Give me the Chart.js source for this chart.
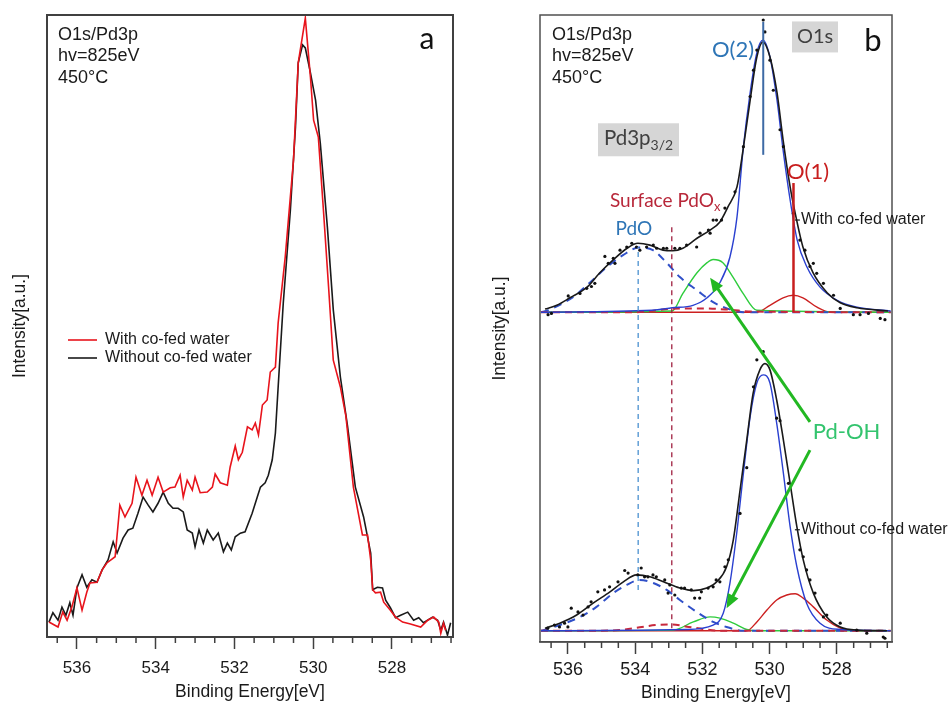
<!DOCTYPE html>
<html>
<head>
<meta charset="utf-8">
<script src="https://cdn.jsdelivr.net/npm/chart.js@4.4.1/dist/chart.umd.min.js"></script>
<style>
  html, body { margin: 0; padding: 0; background: #fff; }
  #wrap { position: relative; width: 952px; height: 704px; overflow: hidden; }
  canvas { position: absolute; top: 0; }
  #chart-a { left: 0; }
  #chart-b { left: 480px; }
</style>
</head>
<body>
<div id="wrap">
  <canvas id="chart-a" width="470" height="704"></canvas>
  <canvas id="chart-b" width="472" height="704"></canvas>
</div>
<script>
/* O1s / Pd3p XPS spectra, hv = 825 eV, 450 C */

var SANS = "'Liberation Sans', Arial, sans-serif";
var HUMAN = "Lato, 'Open Sans', sans-serif";

var majorTicks = [536, 534, 532, 530, 528];
var headerLines = ['O1s/Pd3p', 'hv=825eV', '450°C'];
var legendLabels = ['With co-fed water', 'Without co-fed water'];

/* ---- panel a: raw spectra ---- */
var withE = [536.71, 536.48, 536.36, 536.25, 536.13, 536.00, 535.87, 535.75, 535.67, 535.49, 535.36, 535.24, 535.03,
  534.91, 534.78, 534.60, 534.50, 534.35, 534.22, 534.09, 533.94, 533.81, 533.63, 533.51, 533.38, 533.30, 533.20,
  533.07, 533.00, 532.87, 532.69, 532.56, 532.49, 532.36, 532.18, 532.11, 531.98, 531.90, 531.80, 531.67, 531.55,
  531.47, 531.39, 531.29, 531.17, 531.09, 530.96, 530.89, 530.71, 530.50, 530.38, 530.20, 530.07, 529.99, 529.87,
  529.74, 529.61, 529.49, 529.31, 529.17, 528.98, 528.75, 528.62, 528.54, 528.49, 528.42, 528.29, 528.21, 528.04,
  527.91, 527.73, 527.53, 527.27, 527.09, 526.94, 526.81, 526.76, 526.69, 526.64];
var withI = [2.4, 1.6, 4.0, 2.7, 4.8, 7.9, 4.3, 7.2, 8.7, 8.8, 10.8, 11.9, 12.9,
  21.2, 19.3, 21.5, 25.7, 22.8, 25.2, 22.8, 25.7, 23.3, 24.0, 24.1, 26.0, 22.5, 25.2,
  23.6, 25.7, 23.2, 23.3, 24.1, 26.2, 24.8, 24.4, 27.3, 30.7, 28.5, 29.7, 33.8, 33.3,
  34.4, 32.5, 37.3, 38.1, 42.6, 43.4, 50.5, 61.1, 76.7, 92.3, 99.5, 90.0, 83.1, 80.4,
  68.6, 56.3, 44.5, 40.2, 35.5, 24.1, 16.4, 16.4, 12.4, 7.6, 7.1, 7.2, 5.6, 4.3,
  3.2, 2.4, 2.1, 1.6, 2.7, 3.2, 2.4, 0.6, 2.2, 1.1];

var withoutE = [536.71, 536.61, 536.48, 536.38, 536.28, 536.18, 536.10, 536.00, 535.87, 535.75, 535.62, 535.49,
  535.36, 535.21, 535.08, 534.98, 534.83, 534.70, 534.58, 534.45, 534.32, 534.19, 534.07, 533.94, 533.81, 533.68,
  533.56, 533.43, 533.30, 533.20, 533.07, 533.00, 532.90, 532.79, 532.69, 532.54, 532.41, 532.28, 532.18, 532.08,
  531.98, 531.85, 531.73, 531.55, 531.42, 531.34, 531.22, 531.14, 531.04, 530.96, 530.89, 530.76, 530.58, 530.45,
  530.38, 530.27, 530.20, 530.07, 529.94, 529.82, 529.64, 529.49, 529.31, 529.13, 528.93, 528.72, 528.54, 528.49,
  528.37, 528.24, 528.16, 528.04, 527.91, 527.78, 527.60, 527.45, 527.32, 527.20, 526.97, 526.84, 526.76, 526.69,
  526.59, 526.51];
var withoutI = [2.4, 3.9, 2.7, 4.8, 3.5, 5.5, 3.5, 7.9, 10.0, 8.0, 9.2, 8.8,
  10.8, 12.4, 15.3, 13.5, 15.9, 17.2, 17.5, 19.9, 22.5, 21.2, 20.1, 21.5, 23.3, 21.5,
  20.7, 20.7, 20.1, 17.2, 16.7, 14.5, 17.2, 15.1, 17.2, 15.6, 16.7, 13.7, 15.1, 14.0,
  16.1, 16.7, 16.9, 19.9, 22.5, 24.1, 24.8, 26.0, 28.5, 32.8, 40.2, 53.7, 68.6, 82.0,
  92.3, 95.2, 94.7, 90.7, 86.3, 79.4, 65.9, 52.6, 41.8, 34.0, 24.1, 19.3, 13.5, 7.6,
  8.0, 7.9, 5.9, 4.7, 3.1, 3.5, 4.0, 2.7, 3.1, 2.3, 3.2, 2.7, 1.1, 2.4,
  0.3, 2.3];

/* ---- panel b: fitted spectra, values relative to each baseline ---- */
var topOffset = 52.6;
var bottomOffset = 1.8;

var topFitE = [536.68, 536.33, 535.94, 535.43, 535.05, 534.66, 534.24, 533.92, 533.56, 533.17, 532.88, 532.58, 532.16,
  531.77, 531.48, 531.24, 530.97, 530.79, 530.58, 530.38, 530.20, 529.99, 529.78, 529.60, 529.39, 529.24, 529.01,
  528.71, 528.29, 527.90, 527.40, 526.48];
var topFitI = [0.5, 1.1, 2.3, 4.0, 6.3, 8.3, 10.2, 11.0, 10.7, 9.9, 9.8, 10.2, 11.8,
  13.1, 14.4, 16.8, 20.0, 25.9, 33.8, 40.7, 43.1, 40.7, 35.0, 27.5, 20.0, 15.8, 10.4,
  6.3, 3.1, 1.5, 0.7, 0.2];
var topO2E = [536.80, 533.50, 532.90, 532.28, 531.86, 531.48, 531.18, 530.97, 530.79, 530.58, 530.38, 530.20, 529.99,
  529.78, 529.60, 529.39, 529.18, 528.89, 528.50, 527.99, 527.40, 526.40];
var topO2I = [0, 0.3, 0.7, 1.1, 2.3, 4.7, 8.8, 15.2, 25.9, 35.0, 41.4, 43.4, 40.7,
  33.8, 25.9, 17.9, 11.5, 7.2, 4.0, 1.9, 0.8, 0.2];
var topPdOE = [536.80, 536.60, 535.85, 535.35, 534.84, 534.36, 533.90, 533.47, 533.05, 532.67, 532.16, 531.68, 531.27,
  530.79, 526.40];
var topPdOI = [0, 0.3, 2.4, 4.7, 7.2, 9.1, 10.3, 9.9, 7.8, 5.6, 3.5, 1.6, 0.6, 0, 0];
var topOHE = [536.80, 532.90, 532.58, 532.16, 531.86, 531.68, 531.39, 531.09, 530.79, 530.38, 526.40];
var topOHI = [0, 0.2, 3.0, 6.3, 7.9, 8.4, 7.9, 5.6, 3.0, 0.3, 0];
var topO1E = [536.80, 530.38, 529.99, 529.60, 529.30, 529.01, 528.59, 528.20, 526.40];
var topO1I = [0, 0, 1.1, 2.3, 2.7, 2.3, 0.8, 0, 0];
var topSurfE = [536.80, 534.00, 533.50, 533.00, 532.00, 531.20, 530.50, 526.40];
var topSurfI = [0, 0, 0.2, 0.5, 0.6, 0.4, 0.1, 0];
var topDotE = [536.59, 536.49, 535.99, 535.64, 535.44, 535.30, 535.20, 534.90, 534.80, 534.65, 534.60, 534.45, 534.25,
  534.10, 533.96, 533.86, 533.66, 533.46, 533.36, 533.16, 533.06, 532.82, 532.67, 532.47, 532.17, 532.07, 531.82,
  531.77, 531.68, 531.58, 531.43, 531.33, 531.03, 530.78, 530.58, 530.48, 530.38, 530.19, 530.14, 529.99, 529.89,
  529.69, 529.59, 529.29, 529.10, 528.95, 528.80, 528.70, 528.60, 528.40, 528.10, 527.90, 527.51, 527.31, 527.06,
  526.71, 526.57];
var topDotI = [-0.4, -0.2, 2.6, 3.0, 3.8, 4.1, 4.6, 8.9, 7.8, 8.6, 7.8, 9.9, 10.4,
  11.0, 10.4, 9.9, 10.4, 10.7, 10.2, 10.2, 10.2, 10.2, 10.2, 10.7, 10.4, 12.6, 13.1,
  12.6, 14.7, 14.7, 14.7, 16.6, 19.2, 26.4, 34.4, 38.6, 41.8, 46.6, 44.7, 40.2, 35.4,
  29.1, 26.4, 15.8, 11.5, 9.9, 7.3, 7.8, 6.2, 4.6, 2.7, 0.6, -0.4, -0.4, -0.2,
  -1.0, -1.2];

var botFitE = [536.68, 536.24, 535.74, 535.25, 534.75, 534.35, 533.96, 533.56, 533.16, 532.67, 532.27, 531.87, 531.57,
  531.28, 531.08, 530.88, 530.68, 530.49, 530.29, 530.14, 529.99, 529.79, 529.59, 529.39, 529.19, 529.00, 528.70,
  528.30, 527.90, 527.41, 526.51];
var botFitI = [0.4, 1.2, 2.5, 4.4, 6.2, 7.8, 8.9, 8.6, 7.8, 6.8, 6.4, 6.8, 7.8,
  10.2, 14.5, 22.4, 30.4, 37.9, 41.6, 42.6, 41.6, 36.8, 30.4, 23.5, 16.6, 11.3, 6.0,
  2.2, 0.6, 0.1, 0];
var botO2E = [536.80, 532.50, 531.68, 531.38, 531.18, 530.98, 530.78, 530.58, 530.38, 530.19, 529.99, 529.79, 529.59,
  529.39, 529.19, 528.90, 528.50, 527.90, 526.40];
var botO2I = [0, 0.2, 0.9, 2.8, 7.6, 15.5, 25.1, 34.1, 39.5, 40.8, 39.5, 33.1, 25.1,
  16.6, 10.2, 4.4, 1.2, 0.2, 0];
var botPdOE = [536.80, 536.60, 535.64, 535.15, 534.65, 534.25, 533.86, 533.46, 533.06, 532.67, 532.17, 531.68, 531.28,
  530.78, 526.40];
var botPdOI = [0, 0.3, 2.2, 3.8, 6.0, 7.3, 8.1, 7.6, 6.5, 4.9, 3.0, 1.4, 0.6, 0, 0];
var botOHE = [536.80, 532.87, 532.27, 531.77, 531.48, 531.08, 530.68, 530.38, 526.40];
var botOHI = [0, 0.1, 1.4, 2.2, 2.0, 1.2, 0.2, 0, 0];
var botO1E = [536.80, 530.68, 530.38, 530.08, 529.79, 529.49, 529.24, 529.00, 528.70, 528.30, 527.90, 527.50, 526.40];
var botO1I = [0, 0, 1.4, 3.3, 4.9, 5.7, 5.9, 5.2, 3.8, 1.7, 0.4, 0, 0];
var botSurfE = [536.80, 535.00, 534.30, 533.80, 533.40, 532.90, 532.40, 531.90, 531.50, 526.40];
var botSurfI = [0, 0, 0.2, 0.6, 0.9, 1.0, 0.6, 0.2, 0, 0];
var botDotE = [536.60, 536.40, 536.25, 536.10, 536.00, 535.90, 535.70, 535.55, 535.40, 535.31, 535.11, 534.91, 534.76,
  534.51, 534.31, 534.21, 533.92, 533.82, 533.72, 533.62, 533.47, 533.37, 533.12, 533.02, 532.97, 532.82, 532.63,
  532.53, 532.33, 532.23, 532.08, 532.03, 531.83, 531.68, 531.59, 531.48, 531.33, 531.23, 530.88, 530.68, 530.48,
  530.38, 530.19, 529.79, 529.69, 529.44, 529.10, 529.00, 528.90, 528.80, 528.65, 528.40, 528.30, 527.90, 527.41,
  527.11, 526.62, 526.57];
var botDotI = [0.4, 0.9, 0.6, 1.2, 0.6, 3.6, 3.0, 2.5, 3.8, 4.6, 6.2, 6.5, 7.0,
  7.8, 9.6, 9.2, 8.9, 10.0, 8.6, 8.6, 8.9, 8.6, 8.1, 6.0, 7.3, 5.7, 6.8,
  6.8, 6.5, 5.2, 5.2, 6.2, 6.8, 7.0, 8.1, 7.8, 10.2, 11.3, 18.7, 26.0, 38.9,
  43.2, 44.5, 33.9, 33.5, 23.5, 12.9, 11.8, 9.7, 8.1, 6.0, 2.2, 2.5, 1.2, 0.1,
  -0.4, -1.0, -1.2];

/* peak position markers: O(2), O(1), PdO, surface PdOx */
var markerE = [530.19, 529.29, 533.91, 532.91];
var markerLow = [77.7, 52.6, 8.3, 2.2];
var markerHigh = [98.9, 73.2, 63.0, 66.8];

/* Pd-OH arrows (tail -> head) */
var arrowFromE = [528.80, 528.80];
var arrowFromI = [35.1, 30.6];
var arrowToE = [531.77, 531.28];
var arrowToI = [58.1, 5.4];

function isMajor(v) {
  return majorTicks.indexOf(Math.round(v * 2) / 2) >= 0;
}

function pts(es, vs, off) {
  off = off || 0;
  return es.map(function(e, i) { return { x: e, y: vs[i] + off }; });
}

function rawLine(es, vs, color) {
  return { data: pts(es, vs), showLine: true, borderColor: color, borderWidth: 1.6,
    pointRadius: 0, tension: 0 };
}

function curve(es, vs, off, color, width, dash) {
  return { data: pts(es, vs, off), showLine: true, borderColor: color, borderWidth: width,
    borderDash: dash || [], pointRadius: 0, cubicInterpolationMode: 'monotone' };
}

function dots(es, vs, off) {
  return { data: pts(es, vs, off), showLine: false, pointRadius: 1.6, pointHoverRadius: 0,
    pointBackgroundColor: '#111', pointBorderWidth: 0 };
}

function axes(yWidth, xHeight, min, max, tickSize, tickPad, titlePad) {
  return {
    x: {
      type: 'linear', reverse: true, min: min, max: max,
      afterFit: function(s) { s.height = xHeight; },
      border: { display: true, color: '#404040', width: 1.5 },
      grid: {
        drawOnChartArea: false, tickLength: 12, tickWidth: 1.5,
        tickColor: function(c) { return c.tick && isMajor(c.tick.value) ? '#404040' : 'rgba(0,0,0,0)'; }
      },
      ticks: {
        stepSize: 0.5, autoSkip: false, maxRotation: 0, includeBounds: false, padding: tickPad,
        color: '#1a1a1a', font: { family: SANS, size: tickSize },
        callback: function(v) { return isMajor(v) ? String(Math.round(v)) : ''; }
      },
      title: { display: true, text: 'Binding Energy[eV]', color: '#1a1a1a',
        font: { family: SANS, size: 17.5 }, padding: { top: 0, bottom: titlePad } }
    },
    y: {
      min: 0, max: 100,
      afterFit: function(s) { s.width = yWidth; },
      border: { display: false }, grid: { display: false }, ticks: { display: false },
      title: { display: true, text: 'Intensity[a.u.]', color: '#1a1a1a',
        font: { family: SANS, size: 17.5 }, padding: { top: 9.5, bottom: 0 } }
    }
  };
}

function drawFrame(chart, color, width) {
  var ctx = chart.ctx, a = chart.chartArea;
  ctx.save();
  ctx.strokeStyle = color;
  ctx.lineWidth = width;
  ctx.strokeRect(a.left, a.top, a.right - a.left, a.bottom - a.top);
  ctx.restore();
}

function drawMinorTicks(chart) {
  var xs = chart.scales.x, ctx = chart.ctx, b = chart.chartArea.bottom;
  ctx.save();
  ctx.strokeStyle = '#404040';
  ctx.lineWidth = 1.5;
  for (var v = Math.ceil(xs.min * 2) / 2; v <= xs.max; v += 0.5) {
    if (isMajor(v)) continue;
    var px = xs.getPixelForValue(v);
    ctx.beginPath();
    ctx.moveTo(px, b);
    ctx.lineTo(px, b + 6);
    ctx.stroke();
  }
  ctx.restore();
}

function drawHeader(chart, dx) {
  var ctx = chart.ctx, a = chart.chartArea;
  ctx.save();
  ctx.fillStyle = '#1a1a1a';
  ctx.font = '18px ' + SANS;
  ctx.textAlign = 'left';
  ctx.textBaseline = 'middle';
  for (var i = 0; i < headerLines.length; i++) {
    ctx.fillText(headerLines[i], a.left + dx, a.top + 20 + i * 21.5);
  }
  ctx.restore();
}

function label(ctx, text, x, y, size, color, align) {
  ctx.font = size + 'px ' + HUMAN;
  ctx.fillStyle = color;
  ctx.textAlign = align || 'center';
  ctx.textBaseline = 'middle';
  ctx.fillText(text, x, y);
}

function subLabel(ctx, main, sub, x, y, size, subSize, color, align) {
  ctx.font = size + 'px ' + HUMAN;
  var w1 = ctx.measureText(main).width;
  ctx.font = subSize + 'px ' + HUMAN;
  var w2 = ctx.measureText(sub).width;
  var x0 = align === 'center' ? x - (w1 + w2) / 2 : x;
  ctx.fillStyle = color;
  ctx.textAlign = 'left';
  ctx.textBaseline = 'middle';
  ctx.font = size + 'px ' + HUMAN;
  ctx.fillText(main, x0, y);
  ctx.font = subSize + 'px ' + HUMAN;
  ctx.fillText(sub, x0 + w1, y + size * 0.32);
}

function arrow(ctx, x1, y1, x2, y2, color) {
  var ang = Math.atan2(y2 - y1, x2 - x1), L = 14, W = 6;
  ctx.strokeStyle = color;
  ctx.fillStyle = color;
  ctx.lineWidth = 3;
  ctx.beginPath();
  ctx.moveTo(x1, y1);
  ctx.lineTo(x2 - Math.cos(ang) * L * 0.8, y2 - Math.sin(ang) * L * 0.8);
  ctx.stroke();
  ctx.beginPath();
  ctx.moveTo(x2, y2);
  ctx.lineTo(x2 - L * Math.cos(ang) + W * Math.sin(ang), y2 - L * Math.sin(ang) - W * Math.cos(ang));
  ctx.lineTo(x2 - L * Math.cos(ang) - W * Math.sin(ang), y2 - L * Math.sin(ang) + W * Math.cos(ang));
  ctx.closePath();
  ctx.fill();
}

var panelANotes = {
  id: 'panelANotes',
  afterDraw: function(chart) {
    var ctx = chart.ctx, a = chart.chartArea;
    drawFrame(chart, '#404040', 2);
    drawMinorTicks(chart);
    drawHeader(chart, 11);
    var colors = ['#e8141c', '#1a1a1a'];
    ctx.save();
    for (var i = 0; i < legendLabels.length; i++) {
      var y = a.top + 325 + i * 18;
      ctx.strokeStyle = colors[i];
      ctx.lineWidth = 1.6;
      ctx.beginPath();
      ctx.moveTo(a.left + 21, y);
      ctx.lineTo(a.left + 50, y);
      ctx.stroke();
      ctx.fillStyle = '#1a1a1a';
      ctx.font = '16px ' + SANS;
      ctx.textAlign = 'left';
      ctx.textBaseline = 'middle';
      ctx.fillText(legendLabels[i], a.left + 58, y);
    }
    label(ctx, 'a', a.right - 26, a.top + 24, 30, '#111');
    ctx.restore();
  }
};

var panelBNotes = {
  id: 'panelBNotes',
  afterDraw: function(chart) {
    var ctx = chart.ctx, a = chart.chartArea, xs = chart.scales.x, ys = chart.scales.y;
    function X(e) { return xs.getPixelForValue(e); }
    function Y(v) { return ys.getPixelForValue(v); }
    drawFrame(chart, '#505050', 1.5);
    drawMinorTicks(chart);
    drawHeader(chart, 12);
    ctx.save();
    // grey boxes
    ctx.fillStyle = '#d6d6d6';
    ctx.fillRect(X(528.65) - 23, Y(96.5) - 15.5, 46, 31);
    ctx.fillRect(X(533.90) - 40.5, Y(80.1) - 16.5, 81, 33);
    label(ctx, 'O1s', X(528.65), Y(96.5), 20, '#404040');
    subLabel(ctx, 'Pd3p', '3/2', X(533.90), Y(80.1) - 1, 20.5, 14, '#404040', 'center');
    label(ctx, 'b', a.right - 19, a.top + 26, 31, '#111');
    // peak labels
    label(ctx, 'O(2)', X(531.09), Y(94.4), 22, '#2e75b6');
    label(ctx, 'O(1)', X(528.86), Y(75.0), 22, '#c81e1e');
    label(ctx, 'PdO', X(534.04), Y(65.9), 19, '#2e75b6');
    subLabel(ctx, 'Surface PdO', 'x', X(534.75), Y(70.3), 19, 13, '#b8283a', 'left');
    label(ctx, 'Pd-OH', X(527.71), Y(33.5), 22, '#33c46e');
    // spectrum labels with short leaders
    var tags = ['With co-fed water', 'Without co-fed water'];
    var tagI = [67.3, 17.9];
    for (var i = 0; i < tags.length; i++) {
      var tx = X(529.07), ty = Y(tagI[i]);
      ctx.strokeStyle = '#1a1a1a';
      ctx.lineWidth = 1.2;
      ctx.beginPath();
      ctx.moveTo(tx - 6, ty);
      ctx.lineTo(tx - 1, ty);
      ctx.stroke();
      ctx.fillStyle = '#1a1a1a';
      ctx.font = '16px ' + SANS;
      ctx.textAlign = 'left';
      ctx.textBaseline = 'middle';
      ctx.fillText(tags[i], tx, ty);
    }
    // Pd-OH arrows
    for (var k = 0; k < arrowFromE.length; k++) {
      arrow(ctx, X(arrowFromE[k]), Y(arrowFromI[k]), X(arrowToE[k]), Y(arrowToI[k]), '#22b822');
    }
    ctx.restore();
  }
};

var markerStyles = [
  { color: '#3d6aa5', width: 2, dash: [] },
  { color: '#c81e1e', width: 2.5, dash: [] },
  { color: '#4a90d0', width: 1.3, dash: [5, 4] },
  { color: '#a02040', width: 1.3, dash: [5, 4] }
];

var markerSets = markerE.map(function(e, i) {
  return { data: [{ x: e, y: markerLow[i] }, { x: e, y: markerHigh[i] }], showLine: true,
    borderColor: markerStyles[i].color, borderWidth: markerStyles[i].width,
    borderDash: markerStyles[i].dash, pointRadius: 0 };
});

var BLUE = '#2a40d0', DASHBLUE = '#3050c8', GREEN = '#2ecc3c', RED = '#cc2020', SURF = '#c8283c';

new Chart(document.getElementById('chart-a').getContext('2d'), {
  type: 'scatter',
  data: {
    datasets: [
      rawLine(withE, withI, '#e8141c'),
      rawLine(withoutE, withoutI, '#1a1a1a')
    ]
  },
  options: {
    responsive: false, animation: false, devicePixelRatio: 1,
    layout: { padding: { left: 0, top: 15, right: 17, bottom: 0 } },
    scales: axes(47, 67, 526.45, 536.76, 17, 9, 1.5),
    plugins: { legend: { display: false }, tooltip: { enabled: false } }
  },
  plugins: [panelANotes]
});

new Chart(document.getElementById('chart-b').getContext('2d'), {
  type: 'scatter',
  data: {
    datasets: markerSets.concat([
      dots(topDotE, topDotI, topOffset),
      dots(botDotE, botDotI, bottomOffset),
      curve(topFitE, topFitI, topOffset, '#1a1a1a', 1.6),
      curve(botFitE, botFitI, bottomOffset, '#1a1a1a', 1.6),
      curve(topO2E, topO2I, topOffset, BLUE, 1.4),
      curve(botO2E, botO2I, bottomOffset, BLUE, 1.4),
      curve(topSurfE, topSurfI, topOffset, SURF, 2, [7, 5]),
      curve(botSurfE, botSurfI, bottomOffset, SURF, 2, [7, 5]),
      curve(topPdOE, topPdOI, topOffset, DASHBLUE, 2, [8, 6]),
      curve(botPdOE, botPdOI, bottomOffset, DASHBLUE, 2, [8, 6]),
      curve(topOHE, topOHI, topOffset, GREEN, 1.4),
      curve(botOHE, botOHI, bottomOffset, GREEN, 1.4),
      curve(topO1E, topO1I, topOffset, RED, 1.4),
      curve(botO1E, botO1I, bottomOffset, RED, 1.4)
    ])
  },
  options: {
    responsive: false, animation: false, devicePixelRatio: 1,
    layout: { padding: { left: 0, top: 15, right: 60, bottom: 0 } },
    scales: axes(60, 62, 526.36, 536.83, 18, 5, 0),
    plugins: { legend: { display: false }, tooltip: { enabled: false } }
  },
  plugins: [panelBNotes]
});
</script>
</body>
</html>
